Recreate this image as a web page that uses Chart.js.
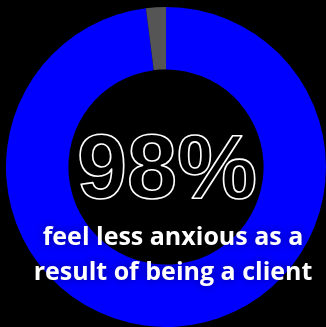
<!DOCTYPE html>
<html>
<head>
<meta charset="utf-8">
<script src="https://cdn.jsdelivr.net/npm/chart.js@4.4.1/dist/chart.umd.min.js"></script>
<style>
  html, body { margin: 0; padding: 0; background: #000; }
  #wrap { width: 326px; height: 327px; position: relative; }
</style>
</head>
<body>
<div id="wrap"><canvas id="c"></canvas></div>
<script>
const categories = ['Feel less anxious', 'Other'];
const values = [98, 2];
const colors = ['#0000ff', '#555555'];
const headline = '98%';
const captionLines = ['feel less anxious as a', 'result of being a client'];

const centerText = {
  id: 'centerText',
  afterDraw(chart) {
    const { ctx } = chart;
    const arc = chart.getDatasetMeta(0).data[0];
    const cx = arc.x, cy = arc.y;
    ctx.save();
    ctx.textAlign = 'center';
    ctx.textBaseline = 'alphabetic';
    // outlined percentage
    ctx.font = 'bold 90px "Liberation Sans", Arial, sans-serif';
    ctx.lineWidth = 1.6;
    ctx.strokeStyle = '#ffffff';
    ctx.lineJoin = 'round';
    ctx.strokeText(headline, cx + 1, cy + 31);
    // caption with soft shadow
    ctx.textBaseline = 'middle';
    ctx.font = 'bold 25px "Open Sans", Inter, sans-serif';
    ctx.fillStyle = '#ffffff';
    ctx.shadowColor = 'rgba(0,0,0,0.45)';
    ctx.shadowBlur = 10;
    ctx.fillText(captionLines[0], cx + 7, cy + 71);
    ctx.fillText(captionLines[1], cx + 7, cy + 106);
    ctx.restore();
  }
};

new Chart(document.getElementById('c'), {
  type: 'doughnut',
  data: {
    labels: categories,
    datasets: [{ data: values, backgroundColor: colors, borderWidth: 0 }]
  },
  options: {
    responsive: true,
    maintainAspectRatio: false,
    animation: false,
    cutout: '61%',
    layout: { padding: { left: 6, right: 0, top: 7, bottom: 0 } },
    plugins: { legend: { display: false }, tooltip: { enabled: false } }
  },
  plugins: [centerText]
});
</script>
</body>
</html>
